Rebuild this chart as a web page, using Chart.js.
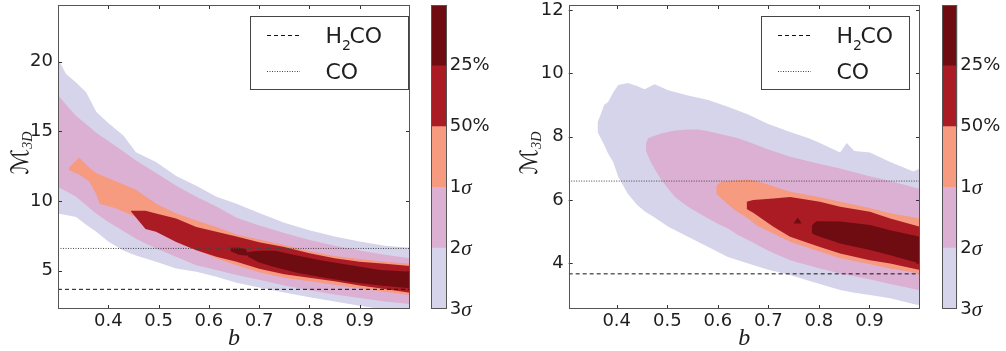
<!DOCTYPE html>
<html><head><meta charset="utf-8">
<script src="https://cdn.jsdelivr.net/npm/chart.js@4.4.0/dist/chart.umd.min.js"></script>
<style>
html,body{margin:0;padding:0;background:#fff;}
#wrap{position:relative;width:1006px;height:351px;overflow:hidden;background:#fff;}
canvas{position:absolute;top:0;}
</style></head><body>
<div id="wrap">
<canvas id="cL" width="420" height="351" style="left:0px"></canvas>
<canvas id="cbL" width="75" height="351" style="left:425px"></canvas>
<canvas id="cR" width="427" height="351" style="left:503px"></canvas>
<canvas id="cbR" width="70" height="351" style="left:936px"></canvas>
</div>
<script>
// ---------- shared ----------
const levelNames = ['3σ', '2σ', '1σ', '50%', '25%'];
const levelColors = ['#d5d4ea', '#dbb0d2', '#f69a80', '#aa1b24', '#6f0c12'];
const cbSegments = [1, 1, 1, 1, 1];
const h2coLevel = 3.67;
const coLevel = 6.6;
const legendLabels = ['H2CO', 'CO'];
const xTicks = [0.4, 0.5, 0.6, 0.7, 0.8, 0.9];
const yTicksLeft = [5, 10, 15, 20];
const yTicksRight = [4, 6, 8, 10, 12];

// ---------- left panel contours (b, upper M, lower M) ----------
const L3_b  = [0.3, 0.316, 0.336, 0.356, 0.376, 0.40, 0.43, 0.455, 0.495, 0.535, 0.575, 0.615, 0.655, 0.7, 0.75, 0.8, 0.85, 0.9, 0.95, 1.0];
const L3_hi = [20.2, 19.1, 18.5, 17.8, 16.4, 15.6, 14.7, 13.5, 12.8, 11.8, 11.1, 10.3, 9.8, 9.15, 8.45, 7.9, 7.45, 7.1, 6.8, 6.65];
const L3_lo = [9.1, 9.0, 8.86, 8.3, 7.8, 7.1, 6.45, 6.1, 5.64, 5.17, 4.93, 4.57, 4.15, 3.8, 3.45, 3.1, 2.8, 2.5, 2.2, 1.95];

const L2_b  = [0.3, 0.316, 0.336, 0.356, 0.376, 0.40, 0.43, 0.455, 0.495, 0.535, 0.575, 0.615, 0.655, 0.7, 0.75, 0.8, 0.85, 0.9, 0.95, 1.0];
const L2_hi = [17.6, 16.9, 16.1, 15.5, 14.9, 14.3, 13.55, 12.9, 12.0, 11.1, 10.3, 9.6, 8.8, 8.25, 7.7, 7.2, 6.8, 6.45, 6.15, 5.9];
const L2_lo = [11.0, 10.7, 10.3, 9.7, 9.1, 8.5, 7.85, 7.3, 6.6, 6.0, 5.4, 5.05, 4.7, 4.35, 3.95, 3.6, 3.3, 3.05, 2.8, 2.62];

const L1_b  = [0.322, 0.342, 0.362, 0.376, 0.383, 0.416, 0.455, 0.495, 0.535, 0.575, 0.615, 0.655, 0.7, 0.75, 0.8, 0.85, 0.9, 0.95, 1.0];
const L1_hi = [12.4, 13.1, 12.4, 12.0, 11.9, 11.4, 10.8, 9.8, 9.1, 8.6, 8.14, 7.6, 7.25, 6.85, 6.4, 6.05, 5.85, 5.65, 5.5];
const L1_lo = [12.2, 11.9, 11.4, 10.5, 9.8, 9.46, 8.86, 8.0, 7.2, 6.5, 5.9, 5.4, 4.9, 4.5, 4.25, 4.0, 3.75, 3.5, 3.26];

const L50_b  = [0.445, 0.474, 0.495, 0.535, 0.575, 0.615, 0.655, 0.7, 0.75, 0.8, 0.85, 0.9, 0.95, 1.0];
const L50_hi = [9.3, 9.3, 9.1, 8.74, 8.14, 7.8, 7.45, 7.05, 6.7, 6.25, 5.9, 5.65, 5.5, 5.34];
const L50_lo = [9.25, 8.0, 7.8, 7.07, 6.48, 6.0, 5.64, 5.15, 4.75, 4.5, 4.25, 3.95, 3.7, 3.43];

const L25_b  = [0.678, 0.7, 0.732, 0.775, 0.822, 0.882, 0.941, 1.0];
const L25_hi = [6.35, 6.43, 6.43, 6.1, 5.76, 5.4, 5.05, 4.93];
const L25_lo = [6.0, 5.6, 5.25, 4.85, 4.55, 4.2, 3.95, 3.74];

const L25s_b  = [0.643, 0.66, 0.672, 0.68];
const L25s_hi = [6.65, 6.65, 6.6, 6.15];
const L25s_lo = [6.4, 6.15, 6.1, 6.1];

// ---------- right panel contours ----------
const R3_b  = [0.362, 0.367, 0.375, 0.383, 0.393, 0.403, 0.422, 0.44, 0.455, 0.475, 0.502, 0.541, 0.581, 0.62, 0.66, 0.7, 0.743, 0.78, 0.802, 0.842, 0.855, 0.87, 0.901, 0.941, 0.987, 1.0];
const R3_hi = [8.45, 8.65, 9.0, 9.1, 9.4, 9.63, 9.7, 9.6, 9.5, 9.66, 9.47, 9.3, 9.16, 8.95, 8.7, 8.4, 8.15, 7.95, 7.8, 7.5, 7.8, 7.55, 7.5, 7.2, 6.9, 7.0];
const R3_lo = [8.15, 8.0, 7.75, 7.47, 7.2, 6.74, 6.2, 5.85, 5.65, 5.45, 5.16, 4.84, 4.52, 4.2, 4.0, 3.8, 3.63, 3.45, 3.35, 3.16, 3.12, 3.07, 3.0, 2.9, 2.72, 2.68];

const R2_b  = [0.458, 0.462, 0.469, 0.488, 0.515, 0.541, 0.561, 0.581, 0.6, 0.62, 0.64, 0.66, 0.7, 0.743, 0.8, 0.842, 0.9, 0.941, 1.0];
const R2_hi = [7.8, 7.95, 8.0, 8.1, 8.2, 8.23, 8.23, 8.17, 8.1, 8.03, 7.95, 7.84, 7.6, 7.37, 7.15, 7.0, 6.75, 6.6, 6.35];
const R2_lo = [7.55, 7.4, 7.15, 6.63, 6.1, 5.79, 5.6, 5.42, 5.25, 5.1, 4.9, 4.74, 4.4, 4.1, 3.85, 3.68, 3.5, 3.35, 3.15];

const R1_b  = [0.597, 0.607, 0.634, 0.66, 0.677, 0.743, 0.8, 0.842, 0.9, 0.941, 1.0];
const R1_hi = [6.45, 6.58, 6.62, 6.65, 6.6, 6.26, 6.1, 5.95, 5.75, 5.58, 5.42];
const R1_lo = [6.2, 6.05, 5.68, 5.42, 5.2, 4.68, 4.38, 4.16, 3.98, 3.84, 3.68];

const R50_b  = [0.657, 0.67, 0.71, 0.743, 0.802, 0.842, 0.901, 0.941, 1.0];
const R50_hi = [5.95, 6.0, 6.05, 6.1, 5.95, 5.79, 5.63, 5.42, 5.16];
const R50_lo = [5.72, 5.6, 5.16, 4.84, 4.52, 4.31, 4.1, 4.0, 3.79];

const R25_b  = [0.786, 0.795, 0.842, 0.901, 0.941, 1.0];
const R25_hi = [5.2, 5.33, 5.32, 5.21, 5.05, 4.84];
const R25_lo = [4.95, 4.88, 4.63, 4.42, 4.26, 4.0];

const R25t_b  = [0.75, 0.758, 0.766];
const R25t_hi = [5.26, 5.45, 5.26];
const R25t_lo = [5.26, 5.26, 5.26];

// ---------- helpers ----------
const TICK_FONT = {family: '"DejaVu Sans"', size: 18};
const TXT = '#1e1e1e';
const FRAME = '#555';

function band(b, hi, lo, level, order) {
  const base = {borderWidth: 0, borderColor: 'rgba(0,0,0,0)', pointRadius: 0, tension: 0, order: order};
  return [
    Object.assign({data: b.map((x, i) => ({x: x, y: hi[i]})), fill: '+1', backgroundColor: levelColors[level]}, base),
    Object.assign({data: b.map((x, i) => ({x: x, y: lo[i]})), fill: false}, base)
  ];
}
function hline(level, xmin, xmax, dash, color) {
  return {data: [{x: xmin, y: level}, {x: xmax, y: level}], borderColor: color, borderWidth: 1,
          borderDash: dash, pointRadius: 0, fill: false, order: 0};
}

const panelDeco = {
  id: 'panelDeco',
  afterDraw(chart, args, o) {
    const ctx = chart.ctx, ca = chart.chartArea;
    const xs = chart.scales.x, ys = chart.scales.y;
    ctx.save();
    ctx.strokeStyle = '#333'; ctx.lineWidth = 1; ctx.setLineDash([]);
    ctx.beginPath();
    o.xTicks.forEach(v => {
      const x = Math.round(xs.getPixelForValue(v)) + 0.5;
      ctx.moveTo(x, ca.bottom); ctx.lineTo(x, ca.bottom - 4);
      ctx.moveTo(x, ca.top); ctx.lineTo(x, ca.top + 4);
    });
    o.yTicks.forEach(v => {
      const y = Math.round(ys.getPixelForValue(v)) + 0.5;
      ctx.moveTo(ca.left, y); ctx.lineTo(ca.left + 4, y);
      ctx.moveTo(ca.right, y); ctx.lineTo(ca.right - 4, y);
    });
    ctx.stroke();
    ctx.strokeStyle = FRAME;
    ctx.strokeRect(Math.round(ca.left) + 0.5, Math.round(ca.top) + 0.5,
                   Math.round(ca.right - ca.left) - 1, Math.round(ca.bottom - ca.top) - 1);
    const bx = Math.round(ca.left + o.legLeft) + 0.5, by = 16.5, bw = o.legWidth, bh = 73;
    ctx.fillStyle = '#fff'; ctx.fillRect(bx, by, bw, bh);
    ctx.strokeStyle = '#444'; ctx.strokeRect(bx, by, bw, bh);
    const rows = [35.5, 71.5];
    ctx.strokeStyle = '#111';
    ctx.setLineDash([4, 3]);
    ctx.beginPath(); ctx.moveTo(bx + 16.5, rows[0]); ctx.lineTo(bx + 49.5, rows[0]); ctx.stroke();
    ctx.strokeStyle = '#444';
    ctx.setLineDash([1, 1.5]);
    ctx.beginPath(); ctx.moveTo(bx + 16.5, rows[1]); ctx.lineTo(bx + 49.5, rows[1]); ctx.stroke();
    ctx.setLineDash([]);
    ctx.fillStyle = TXT; ctx.textBaseline = 'alphabetic'; ctx.textAlign = 'left';
    const lab0 = legendLabels[0];
    ctx.font = '22px "DejaVu Sans"';
    ctx.fillText(lab0.slice(0, 1), bx + 75, 43);
    ctx.font = '14px "DejaVu Sans"';
    ctx.fillText(lab0.slice(1, 2), bx + 91.5, 50);
    ctx.font = '22px "DejaVu Sans"';
    ctx.fillText(lab0.slice(2), bx + 99, 43);
    ctx.fillText(legendLabels[1], bx + 75, 79);
    ctx.translate(o.yLabelX, 153);
    ctx.rotate(-Math.PI / 2);
    ctx.font = '24px "DejaVu Sans"';
    const wM = ctx.measureText('ℳ').width;
    ctx.font = 'italic 14px "Liberation Serif"';
    const wS = ctx.measureText('3D').width;
    const st = -(wM + wS) / 2;
    ctx.font = '24px "DejaVu Sans"';
    ctx.fillText('ℳ', st, 0);
    ctx.font = 'italic 14px "Liberation Serif"';
    ctx.fillText('3D', st + wM, 4);
    ctx.restore();
  }
};

const cbDeco = {
  id: 'cbDeco',
  afterDraw(chart) {
    const ctx = chart.ctx, ca = chart.chartArea, ys = chart.scales.y;
    ctx.save();
    ctx.strokeStyle = FRAME; ctx.lineWidth = 1;
    ctx.strokeRect(Math.round(ca.left) + 0.5, Math.round(ca.top) + 0.5,
                   Math.round(ca.right - ca.left) - 1, Math.round(ca.bottom - ca.top) - 1);
    ctx.fillStyle = TXT; ctx.textBaseline = 'middle'; ctx.textAlign = 'left';
    levelNames.forEach((name, i) => {
      const y = ys.getPixelForValue(i);
      const x = ca.right + 3;
      if (name.endsWith('σ')) {
        ctx.font = '18px "DejaVu Sans"';
        const num = name.slice(0, -1);
        ctx.fillText(num, x, y);
        const w = ctx.measureText(num).width;
        ctx.font = 'italic 21px "Liberation Serif"';
        ctx.fillText('σ', x + w, y + 1);
      } else {
        ctx.font = '18px "DejaVu Sans"';
        ctx.fillText(name, x, y);
      }
    });
    ctx.restore();
  }
};

function makePanel(id, xmin, xmax, ymin, ymax, yTicks, bands, axisW, yLabelX, legLeft, legWidth) {
  const datasets = [
    hline(h2coLevel, xmin, xmax, [4, 3], '#111'),
    hline(coLevel, xmin, xmax, [1, 1.5], '#444')
  ];
  bands.forEach(bd => datasets.push(...band(bd[0], bd[1], bd[2], bd[3], bd[4])));
  return new Chart(document.getElementById(id), {
    type: 'line',
    data: {datasets: datasets},
    plugins: [panelDeco],
    options: {
      responsive: false, animation: false, devicePixelRatio: 1,
      layout: {padding: {left: 0, top: 5, right: 10, bottom: 0}},
      plugins: {
        legend: {display: false}, tooltip: {enabled: false},
        panelDeco: {xTicks: xTicks, yTicks: yTicks, yLabelX: yLabelX, legLeft: legLeft, legWidth: legWidth}
      },
      scales: {
        x: {
          type: 'linear', min: xmin, max: xmax,
          grid: {display: false, drawTicks: false}, border: {display: false},
          ticks: {font: TICK_FONT, color: TXT, padding: 2, autoSkip: false, maxRotation: 0,
                  callback: v => Number(v).toFixed(1)},
          afterBuildTicks: s => { s.ticks = xTicks.map(v => ({value: v})); },
          afterFit: s => { s.height = 42; s.paddingLeft = 0; s.paddingRight = 0; },
          title: {display: true, text: 'b', color: TXT,
                  font: {family: '"Liberation Serif"', size: 24, style: 'italic', lineHeight: 1},
                  padding: {top: 0, bottom: 0}}
        },
        y: {
          type: 'linear', min: ymin, max: ymax,
          grid: {display: false, drawTicks: false}, border: {display: false},
          ticks: {font: TICK_FONT, color: TXT, padding: 5, autoSkip: false,
                  callback: v => String(v)},
          afterBuildTicks: s => { s.ticks = yTicks.map(v => ({value: v})); },
          afterFit: s => { s.width = axisW; s.paddingTop = 0; s.paddingBottom = 0; }
        }
      }
    }
  });
}

function makeColorbar(id, padLeft, padRight) {
  return new Chart(document.getElementById(id), {
    type: 'bar',
    data: {
      labels: [''],
      datasets: levelNames.map((n, i) => ({
        label: n, data: [cbSegments[i]], backgroundColor: levelColors[i],
        borderWidth: 0, barPercentage: 1, categoryPercentage: 1
      }))
    },
    plugins: [cbDeco],
    options: {
      responsive: false, animation: false, devicePixelRatio: 1,
      layout: {padding: {left: padLeft, right: padRight, top: 5, bottom: 42}},
      plugins: {legend: {display: false}, tooltip: {enabled: false}},
      scales: {
        x: {display: false, stacked: true},
        y: {display: false, stacked: true, min: 0, max: cbSegments.reduce((a, b) => a + b, 0)}
      }
    }
  });
}

makePanel('cL', 0.3, 1.0, 2.26, 24.05, yTicksLeft, [
  [L25s_b, L25s_hi, L25s_lo, 4, 1],
  [L25_b, L25_hi, L25_lo, 4, 1],
  [L50_b, L50_hi, L50_lo, 3, 2],
  [L1_b, L1_hi, L1_lo, 2, 3],
  [L2_b, L2_hi, L2_lo, 1, 4],
  [L3_b, L3_hi, L3_lo, 0, 5]
], 58, 28, 192, 158);

makePanel('cR', 0.305, 1.0, 2.56, 12.16, yTicksRight, [
  [R25t_b, R25t_hi, R25t_lo, 4, 1],
  [R25_b, R25_hi, R25_lo, 4, 1],
  [R50_b, R50_hi, R50_lo, 3, 2],
  [R1_b, R1_hi, R1_lo, 2, 3],
  [R2_b, R2_hi, R2_lo, 1, 4],
  [R3_b, R3_hi, R3_lo, 0, 5]
], 65.7, 34, 192, 148);

makeColorbar('cbL', 6, 53.3);
makeColorbar('cbR', 6, 48.7);
</script>
</body></html>
